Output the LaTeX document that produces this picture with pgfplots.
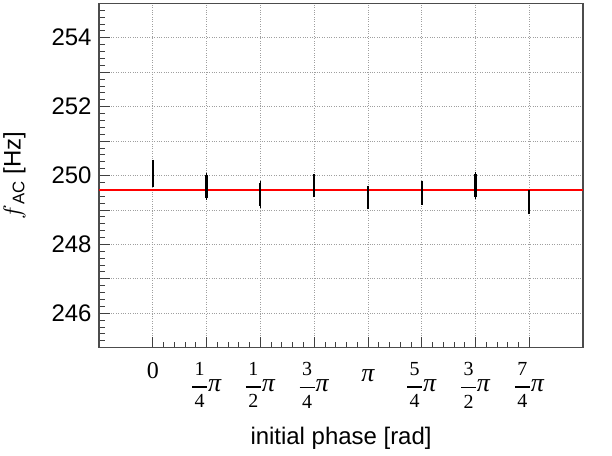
\documentclass[border=0pt]{standalone}
\usepackage{pgfplots}
\pgfplotsset{compat=1.18}
\usepackage{pgfplotstable}
\usepackage{fontspec}
\setmainfont{Liberation Sans}
\newfontfamily\serif{Liberation Serif}
\newcommand{\pisym}{{\serif\itshape\fontsize{26}{28}\selectfont π}}
\newcommand{\fr}[2]{\hbox{\fontsize{20}{22}\selectfont\serif\vtop{\hbox to 15pt{\hss#1\hss}\kern 11pt\hrule height 1.5pt\kern 7pt\hbox to 15pt{\hss#2\hss}}\kern1pt\raisebox{-16pt}{\pisym}}}
\pgfplotstableread{
x y e
0 250.06 0.33
1 249.69 0.33
2 249.45 0.33
3 249.70 0.27
4 249.36 0.28
5 249.50 0.29
6 249.71 0.33
7 249.23 0.29
}\datatable
\begin{document}
\begin{tikzpicture}
\begin{axis}[
  scale only axis, width=485pt, height=345pt,
  xmin=-1, xmax=8, ymin=245, ymax=255,
  xtick={0,...,7},
  xticklabels={{\serif 0}, \fr{1}{4}, \fr{1}{2}, \fr{3}{4}, {\raisebox{0pt}[19pt][0pt]{\pisym}}, \fr{5}{4}, \fr{3}{2}, \fr{7}{4}},
  ytick={245,...,255},
  yticklabels={,246,,248,,250,,252,,254,},
  minor x tick num=4, minor y tick num=4,
  tick align=inside, xtick pos=bottom, ytick pos=left,
  major tick length=11pt, minor tick length=6pt,
  every tick/.style={black!75, line width=0.8pt},
  grid=major,
  major grid style={dotted, gray!75, line width=0.8pt},
  axis line style={black!70, line width=1.2pt},
  tick label style={font=\fontsize{24}{28}\selectfont},
  yticklabel style={xshift=-4pt},
  xticklabel style={yshift=-11pt},
  xlabel={initial phase [rad]},
  ylabel={$f$\textsubscript{AC} [Hz]},
  every axis x label/.style={at={(axis description cs:0.5,0)}, anchor=north, yshift=-76pt, font=\fontsize{24}{28}\selectfont},
  every axis y label/.style={at={(axis description cs:0,0.5)}, xshift=-70pt, rotate=90, anchor=south, font=\fontsize{24}{28}\selectfont},
  clip=false,
]
\addplot[red, line width=2.2pt] coordinates {(-1,249.58) (8,249.58)};
\addplot[black, mark=none, draw opacity=0,
  error bars/.cd, y dir=both, y explicit,
  error bar style={draw opacity=1, draw=black, solid, line width=2.2pt},
  error mark options={draw opacity=1, draw=black, solid, mark size=2.2pt, line width=1.6pt}]
  table[x=x, y=y, y error=e]{\datatable};
\end{axis}
\path ([shift={(-98pt,-108pt)}]current axis.south west) rectangle ++(612pt,456pt);
\end{tikzpicture}
\end{document}
